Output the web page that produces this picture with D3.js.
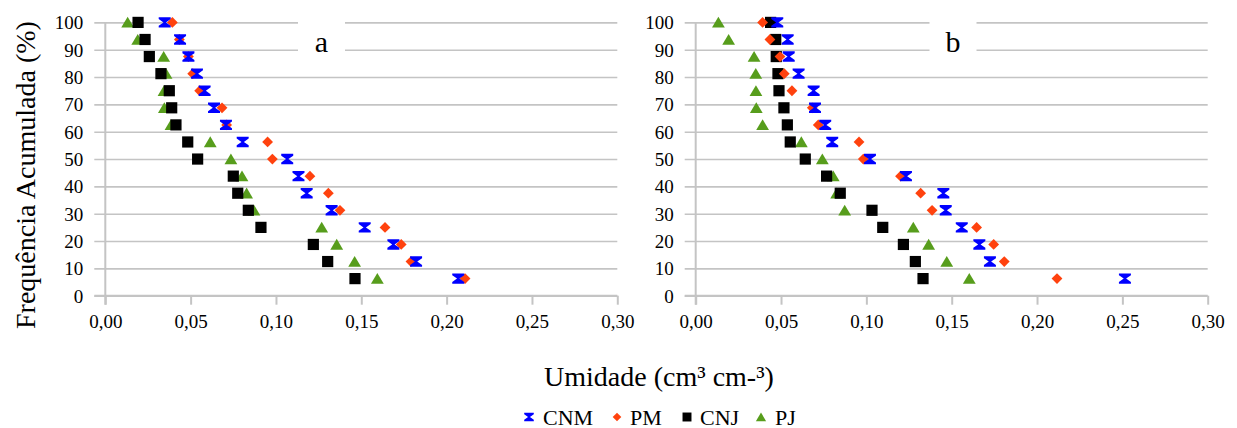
<!DOCTYPE html>
<html>
<head>
<meta charset="utf-8">
<script src="https://cdn.jsdelivr.net/npm/d3@7"></script>
<style>
  html, body { margin: 0; padding: 0; background: #fff; }
  svg { display: block; }
</style>
</head>
<body>
<svg id="chart" width="1237" height="428"></svg>
<script>
// Cumulative frequency levels (%) shared by every series
const freqLevels = [100, 93.75, 87.5, 81.25, 75, 68.75, 62.5, 56.25, 50, 43.75, 37.5, 31.25, 25, 18.75, 12.5, 6.25];

// Panel a – soil moisture (cm³ cm-³)
const cnmA = [0.0348, 0.0438, 0.0487, 0.0537, 0.0582, 0.0637, 0.0707, 0.0805, 0.1066, 0.1132, 0.1180, 0.1326, 0.1520, 0.1688, 0.1821, 0.2068];
const pmA  = [0.0393, 0.0434, 0.0487, 0.0512, 0.0553, 0.0684, 0.0711, 0.0951, 0.0979, 0.1199, 0.1307, 0.1375, 0.1639, 0.1734, 0.1791, 0.2108];
const cnjA = [0.0192, 0.0233, 0.0258, 0.0326, 0.0375, 0.0389, 0.0414, 0.0483, 0.0541, 0.0750, 0.0776, 0.0838, 0.0912, 0.1219, 0.1303, 0.1463];
const pjA  = [0.0131, 0.0190, 0.0342, 0.0356, 0.0344, 0.0346, 0.0385, 0.0615, 0.0736, 0.0801, 0.0828, 0.0871, 0.1268, 0.1356, 0.1461, 0.1594];

// Panel b – soil moisture (cm³ cm-³)
const cnmB = [0.0478, 0.0539, 0.0545, 0.0603, 0.0691, 0.0699, 0.0759, 0.0800, 0.1021, 0.1232, 0.1451, 0.1465, 0.1559, 0.1662, 0.1724, 0.2515];
const pmB  = [0.0392, 0.0435, 0.0494, 0.0519, 0.0564, 0.0683, 0.0718, 0.0957, 0.0982, 0.1200, 0.1318, 0.1385, 0.1646, 0.1746, 0.1808, 0.2117];
const cnjB = [0.0439, 0.0469, 0.0472, 0.0482, 0.0488, 0.0517, 0.0537, 0.0554, 0.0642, 0.0767, 0.0847, 0.1033, 0.1096, 0.1217, 0.1287, 0.1332];
const pjB  = [0.0133, 0.0193, 0.0342, 0.0352, 0.0353, 0.0355, 0.0392, 0.0619, 0.0742, 0.0806, 0.0826, 0.0873, 0.1275, 0.1365, 0.1471, 0.1603];

// Axis ticks and labels
const xTicks = [0, 0.05, 0.10, 0.15, 0.20, 0.25, 0.30];
const yTicks = [0, 10, 20, 30, 40, 50, 60, 70, 80, 90, 100];
const seriesNames = ["CNM", "PM", "CNJ", "PJ"];
const panelLabels = ["a", "b"];

const colors = { CNM: "#0000ff", PM: "#ff420e", CNJ: "#000000", PJ: "#579d1c" };
const gridColor = "#c4c4c4";
const serif = "'Liberation Serif', 'Times New Roman', serif";
const fmtX = d => d3.format(".2f")(d).replace(".", ",");

// Marker shapes
const markerPath = {
  CNM: "M-6,-5.2H6V-3.4L1.2,0L6,3.4V5.2H-6V3.4L-1.2,0L-6,-3.4Z",
  PM: "M0,-5.4L5.4,0L0,5.4L-5.4,0Z",
  CNJ: "M-5.6,-5.6H5.6V5.6H-5.6Z",
  PJ: "M0,-5.6L6.4,5.2H-6.4Z"
};

const svg = d3.select("#chart");

const panels = [
  { left: 105.3, right: 617.3, label: panelLabels[0], labelX: 321.5,
    series: { CNM: cnmA, PM: pmA, CNJ: cnjA, PJ: pjA } },
  { left: 695.7, right: 1207.7, label: panelLabels[1], labelX: 953,
    series: { CNM: cnmB, PM: pmB, CNJ: cnjB, PJ: pjB } }
];
const plotTop = 22.4, plotBottom = 295.7;

panels.forEach(p => {
  const x = d3.scaleLinear().domain([0, 0.30]).range([p.left, p.right]);
  const y = d3.scaleLinear().domain([0, 100]).range([plotBottom, plotTop]);
  const g = svg.append("g");

  // Horizontal gridlines with outward tick stubs
  const yAxis = d3.axisLeft(y).tickValues(yTicks).tickFormat(d3.format("d"))
    .tickSizeInner(-(p.right - p.left)).tickSizeOuter(0).tickPadding(0);
  const yg = g.append("g").attr("transform", `translate(${p.left},0)`).call(yAxis);
  yg.select(".domain").remove();
  yg.selectAll(".tick line")
    .attr("x1", -11).attr("x2", p.right - p.left)
    .attr("stroke", gridColor).attr("stroke-width", 1.6);
  yg.selectAll(".tick text")
    .attr("x", -22).attr("dy", "0.34em")
    .style("font-family", serif)
    .style("font-size", "19px").attr("fill", "#000");

  // Vertical axis line
  g.append("line")
    .attr("x1", p.left).attr("x2", p.left)
    .attr("y1", y(100) - 0.5).attr("y2", plotBottom + 9)
    .attr("stroke", gridColor).attr("stroke-width", 2);

  // Horizontal axis with downward ticks
  const xAxis = d3.axisBottom(x).tickValues(xTicks).tickFormat(fmtX)
    .tickSizeInner(9).tickSizeOuter(0).tickPadding(10);
  const xg = g.append("g").attr("transform", `translate(0,${plotBottom})`).call(xAxis);
  xg.select(".domain").attr("stroke", gridColor).attr("stroke-width", 2)
    .attr("d", `M${p.left - 11},0H${p.right}`);
  xg.selectAll(".tick line").attr("stroke", gridColor).attr("stroke-width", 2);
  xg.selectAll(".tick text")
    .style("font-family", serif)
    .style("font-size", "19px").attr("fill", "#000");

  // Panel letter on a white box over the gridlines
  g.append("rect")
    .attr("x", p.labelX - 23.5).attr("y", 12).attr("width", 47).attr("height", 48)
    .attr("fill", "#fff");
  g.append("text")
    .attr("x", p.labelX).attr("y", 51.5)
    .attr("text-anchor", "middle")
    .style("font-family", serif)
    .style("font-size", "30px").attr("fill", "#000")
    .text(p.label);

  // Points: drawn so that CNM ends up on top
  ["PJ", "CNJ", "PM", "CNM"].forEach(name => {
    g.append("g").selectAll("path")
      .data(p.series[name].map((v, i) => ({ v, f: freqLevels[i] })))
      .join("path")
      .attr("d", markerPath[name])
      .attr("transform", d => `translate(${x(d.v)},${y(d.f)})`)
      .attr("fill", colors[name]);
  });
});

// Axis titles
svg.append("text")
  .attr("transform", `translate(35,${(plotTop + plotBottom) / 2 + 16}) rotate(-90)`)
  .attr("text-anchor", "middle")
  .style("font-family", serif)
  .style("font-size", "28px").attr("fill", "#000")
  .text("Frequência Acumulada (%)");

svg.append("text")
  .attr("x", 659).attr("y", 386)
  .attr("text-anchor", "middle")
  .style("font-family", serif)
  .style("font-size", "28px").attr("fill", "#000")
  .text("Umidade (cm³ cm-³)");

// Legend
const legendItems = [
  { name: seriesNames[0], mx: 529, tx: 543 },
  { name: seriesNames[1], mx: 617, tx: 630 },
  { name: seriesNames[2], mx: 687, tx: 700 },
  { name: seriesNames[3], mx: 761, tx: 775 }
];
const legend = svg.append("g");
legendItems.forEach(it => {
  legend.append("path")
    .attr("d", markerPath[it.name])
    .attr("transform", `translate(${it.mx},417) scale(0.8)`)
    .attr("fill", colors[it.name]);
  legend.append("text")
    .attr("x", it.tx).attr("y", 424.5)
    .style("font-family", serif)
    .style("font-size", "22px").attr("fill", "#000")
    .text(it.name);
});
</script>
</body>
</html>
